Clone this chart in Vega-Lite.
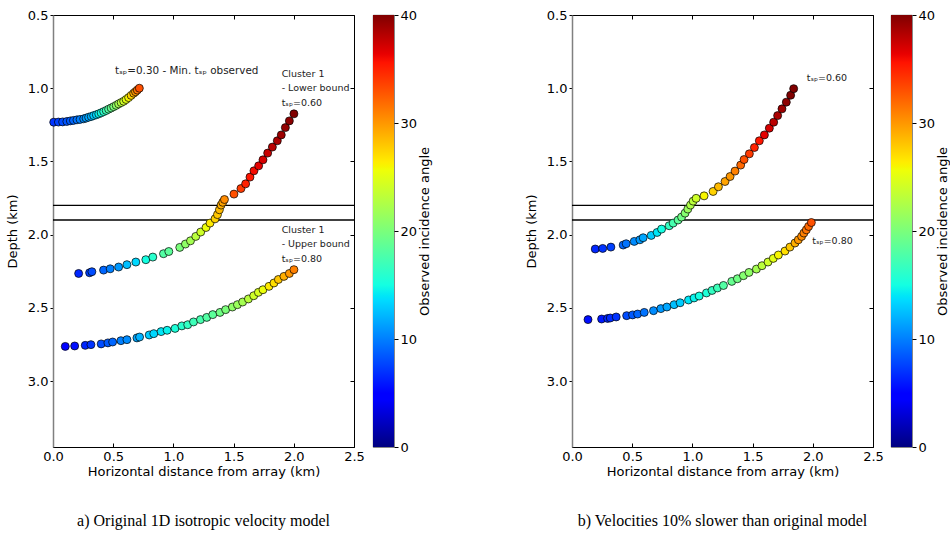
{
  "$schema": "https://vega.github.io/schema/vega-lite/v6.json",
  "padding": {"left": 5, "top": 8, "right": 0, "bottom": 5},
  "spacing": 92,
  "config": {
    "font": "DejaVu Sans",
    "view": {"stroke": "black", "strokeWidth": 1},
    "axis": {"grid": false, "labelFontSize": 13, "titleFontSize": 13, "titleFontWeight": "normal", "labelColor": "black", "titleColor": "black", "tickColor": "black", "domainColor": "black", "labelFont": "DejaVu Sans", "titleFont": "DejaVu Sans", "labelFlush": false}
  },
  "datasets": {
    "lines": [{"depth": 1.8}, {"depth": 1.9}],
    "bar": [{"lo": 0, "hi": 40}],
    "ptsA": [
      {"curve": "0.30", "x": 0.006, "depth": 1.232, "angle": 7},
      {"curve": "0.30", "x": 0.045, "depth": 1.231, "angle": 7.5},
      {"curve": "0.30", "x": 0.08, "depth": 1.230, "angle": 8},
      {"curve": "0.30", "x": 0.115, "depth": 1.227, "angle": 8.3},
      {"curve": "0.30", "x": 0.144, "depth": 1.223, "angle": 8.6},
      {"curve": "0.30", "x": 0.17, "depth": 1.220, "angle": 9},
      {"curve": "0.30", "x": 0.199, "depth": 1.216, "angle": 9.5},
      {"curve": "0.30", "x": 0.225, "depth": 1.213, "angle": 10},
      {"curve": "0.30", "x": 0.255, "depth": 1.209, "angle": 10.5},
      {"curve": "0.30", "x": 0.275, "depth": 1.204, "angle": 11},
      {"curve": "0.30", "x": 0.296, "depth": 1.198, "angle": 11.5},
      {"curve": "0.30", "x": 0.318, "depth": 1.193, "angle": 12},
      {"curve": "0.30", "x": 0.338, "depth": 1.187, "angle": 13},
      {"curve": "0.30", "x": 0.36, "depth": 1.181, "angle": 13.5},
      {"curve": "0.30", "x": 0.38, "depth": 1.175, "angle": 14.5},
      {"curve": "0.30", "x": 0.40, "depth": 1.168, "angle": 15},
      {"curve": "0.30", "x": 0.421, "depth": 1.160, "angle": 16},
      {"curve": "0.30", "x": 0.442, "depth": 1.152, "angle": 17},
      {"curve": "0.30", "x": 0.462, "depth": 1.143, "angle": 18},
      {"curve": "0.30", "x": 0.483, "depth": 1.135, "angle": 19},
      {"curve": "0.30", "x": 0.504, "depth": 1.126, "angle": 20},
      {"curve": "0.30", "x": 0.525, "depth": 1.117, "angle": 21},
      {"curve": "0.30", "x": 0.545, "depth": 1.107, "angle": 22},
      {"curve": "0.30", "x": 0.566, "depth": 1.098, "angle": 23},
      {"curve": "0.30", "x": 0.587, "depth": 1.089, "angle": 24},
      {"curve": "0.30", "x": 0.607, "depth": 1.077, "angle": 25},
      {"curve": "0.30", "x": 0.628, "depth": 1.064, "angle": 26},
      {"curve": "0.30", "x": 0.649, "depth": 1.049, "angle": 27.5},
      {"curve": "0.30", "x": 0.670, "depth": 1.034, "angle": 29},
      {"curve": "0.30", "x": 0.685, "depth": 1.024, "angle": 30},
      {"curve": "0.30", "x": 0.700, "depth": 1.013, "angle": 31.5},
      {"curve": "0.30", "x": 0.717, "depth": 1.000, "angle": 33},
      {"curve": "0.60", "x": 0.213, "depth": 2.265, "angle": 6.5},
      {"curve": "0.60", "x": 0.304, "depth": 2.260, "angle": 7.5},
      {"curve": "0.60", "x": 0.323, "depth": 2.253, "angle": 8},
      {"curve": "0.60", "x": 0.420, "depth": 2.242, "angle": 9},
      {"curve": "0.60", "x": 0.475, "depth": 2.233, "angle": 10},
      {"curve": "0.60", "x": 0.545, "depth": 2.221, "angle": 11},
      {"curve": "0.60", "x": 0.614, "depth": 2.205, "angle": 12.5},
      {"curve": "0.60", "x": 0.688, "depth": 2.187, "angle": 13.5},
      {"curve": "0.60", "x": 0.771, "depth": 2.171, "angle": 15},
      {"curve": "0.60", "x": 0.829, "depth": 2.153, "angle": 16},
      {"curve": "0.60", "x": 0.918, "depth": 2.130, "angle": 18},
      {"curve": "0.60", "x": 0.962, "depth": 2.115, "angle": 18.5},
      {"curve": "0.60", "x": 1.053, "depth": 2.087, "angle": 20},
      {"curve": "0.60", "x": 1.100, "depth": 2.064, "angle": 21},
      {"curve": "0.60", "x": 1.142, "depth": 2.042, "angle": 22},
      {"curve": "0.60", "x": 1.186, "depth": 2.012, "angle": 23},
      {"curve": "0.60", "x": 1.227, "depth": 1.982, "angle": 24},
      {"curve": "0.60", "x": 1.271, "depth": 1.951, "angle": 25.5},
      {"curve": "0.60", "x": 1.304, "depth": 1.921, "angle": 26.5},
      {"curve": "0.60", "x": 1.346, "depth": 1.892, "angle": 27.5},
      {"curve": "0.60", "x": 1.366, "depth": 1.863, "angle": 28},
      {"curve": "0.60", "x": 1.382, "depth": 1.830, "angle": 28.5},
      {"curve": "0.60", "x": 1.396, "depth": 1.798, "angle": 29},
      {"curve": "0.60", "x": 1.410, "depth": 1.779, "angle": 29.5},
      {"curve": "0.60", "x": 1.424, "depth": 1.760, "angle": 30.5},
      {"curve": "0.60", "x": 1.503, "depth": 1.723, "angle": 33},
      {"curve": "0.60", "x": 1.561, "depth": 1.685, "angle": 34},
      {"curve": "0.60", "x": 1.600, "depth": 1.653, "angle": 35},
      {"curve": "0.60", "x": 1.636, "depth": 1.607, "angle": 35.5},
      {"curve": "0.60", "x": 1.669, "depth": 1.564, "angle": 36},
      {"curve": "0.60", "x": 1.708, "depth": 1.530, "angle": 36.5},
      {"curve": "0.60", "x": 1.744, "depth": 1.489, "angle": 37},
      {"curve": "0.60", "x": 1.783, "depth": 1.443, "angle": 37.5},
      {"curve": "0.60", "x": 1.822, "depth": 1.402, "angle": 38},
      {"curve": "0.60", "x": 1.863, "depth": 1.359, "angle": 38.5},
      {"curve": "0.60", "x": 1.896, "depth": 1.319, "angle": 39},
      {"curve": "0.60", "x": 1.930, "depth": 1.269, "angle": 39.3},
      {"curve": "0.60", "x": 1.963, "depth": 1.223, "angle": 39.6},
      {"curve": "0.60", "x": 2.001, "depth": 1.175, "angle": 40},
      {"curve": "0.80", "x": 0.102, "depth": 2.763, "angle": 5},
      {"curve": "0.80", "x": 0.180, "depth": 2.760, "angle": 5.5},
      {"curve": "0.80", "x": 0.268, "depth": 2.756, "angle": 6.5},
      {"curve": "0.80", "x": 0.315, "depth": 2.751, "angle": 7},
      {"curve": "0.80", "x": 0.400, "depth": 2.746, "angle": 8},
      {"curve": "0.80", "x": 0.456, "depth": 2.739, "angle": 8.5},
      {"curve": "0.80", "x": 0.495, "depth": 2.733, "angle": 9},
      {"curve": "0.80", "x": 0.564, "depth": 2.724, "angle": 10},
      {"curve": "0.80", "x": 0.614, "depth": 2.717, "angle": 10.5},
      {"curve": "0.80", "x": 0.697, "depth": 2.705, "angle": 11.5},
      {"curve": "0.80", "x": 0.719, "depth": 2.699, "angle": 12},
      {"curve": "0.80", "x": 0.799, "depth": 2.685, "angle": 13},
      {"curve": "0.80", "x": 0.837, "depth": 2.676, "angle": 13.5},
      {"curve": "0.80", "x": 0.898, "depth": 2.662, "angle": 14},
      {"curve": "0.80", "x": 0.948, "depth": 2.653, "angle": 14.5},
      {"curve": "0.80", "x": 1.014, "depth": 2.640, "angle": 15.5},
      {"curve": "0.80", "x": 1.070, "depth": 2.623, "angle": 16},
      {"curve": "0.80", "x": 1.119, "depth": 2.615, "angle": 16.5},
      {"curve": "0.80", "x": 1.167, "depth": 2.596, "angle": 17},
      {"curve": "0.80", "x": 1.225, "depth": 2.580, "angle": 17.5},
      {"curve": "0.80", "x": 1.277, "depth": 2.565, "angle": 18},
      {"curve": "0.80", "x": 1.327, "depth": 2.546, "angle": 18.5},
      {"curve": "0.80", "x": 1.387, "depth": 2.531, "angle": 19.5},
      {"curve": "0.80", "x": 1.434, "depth": 2.512, "angle": 20},
      {"curve": "0.80", "x": 1.490, "depth": 2.494, "angle": 21},
      {"curve": "0.80", "x": 1.532, "depth": 2.478, "angle": 21.5},
      {"curve": "0.80", "x": 1.575, "depth": 2.460, "angle": 22},
      {"curve": "0.80", "x": 1.623, "depth": 2.439, "angle": 23},
      {"curve": "0.80", "x": 1.667, "depth": 2.417, "angle": 24},
      {"curve": "0.80", "x": 1.706, "depth": 2.394, "angle": 24.5},
      {"curve": "0.80", "x": 1.744, "depth": 2.376, "angle": 25.5},
      {"curve": "0.80", "x": 1.794, "depth": 2.353, "angle": 26.5},
      {"curve": "0.80", "x": 1.835, "depth": 2.330, "angle": 27},
      {"curve": "0.80", "x": 1.872, "depth": 2.306, "angle": 28},
      {"curve": "0.80", "x": 1.918, "depth": 2.285, "angle": 29},
      {"curve": "0.80", "x": 1.963, "depth": 2.265, "angle": 30},
      {"curve": "0.80", "x": 2.001, "depth": 2.239, "angle": 31}
    ],
    "ptsB": [
      {"curve": "0.60", "x": 0.193, "depth": 2.098, "angle": 6.5},
      {"curve": "0.60", "x": 0.255, "depth": 2.094, "angle": 7},
      {"curve": "0.60", "x": 0.323, "depth": 2.085, "angle": 7.5},
      {"curve": "0.60", "x": 0.425, "depth": 2.071, "angle": 9},
      {"curve": "0.60", "x": 0.450, "depth": 2.062, "angle": 9.5},
      {"curve": "0.60", "x": 0.517, "depth": 2.046, "angle": 10.5},
      {"curve": "0.60", "x": 0.564, "depth": 2.035, "angle": 11},
      {"curve": "0.60", "x": 0.591, "depth": 2.021, "angle": 11.5},
      {"curve": "0.60", "x": 0.658, "depth": 2.005, "angle": 13},
      {"curve": "0.60", "x": 0.707, "depth": 1.985, "angle": 14},
      {"curve": "0.60", "x": 0.744, "depth": 1.962, "angle": 15},
      {"curve": "0.60", "x": 0.807, "depth": 1.939, "angle": 16.5},
      {"curve": "0.60", "x": 0.840, "depth": 1.921, "angle": 17.5},
      {"curve": "0.60", "x": 0.881, "depth": 1.900, "angle": 18.5},
      {"curve": "0.60", "x": 0.910, "depth": 1.880, "angle": 19.5},
      {"curve": "0.60", "x": 0.939, "depth": 1.853, "angle": 20.5},
      {"curve": "0.60", "x": 0.962, "depth": 1.825, "angle": 21.5},
      {"curve": "0.60", "x": 0.984, "depth": 1.798, "angle": 22.5},
      {"curve": "0.60", "x": 1.006, "depth": 1.771, "angle": 23},
      {"curve": "0.60", "x": 1.031, "depth": 1.752, "angle": 24},
      {"curve": "0.60", "x": 1.097, "depth": 1.735, "angle": 26},
      {"curve": "0.60", "x": 1.172, "depth": 1.705, "angle": 27.5},
      {"curve": "0.60", "x": 1.216, "depth": 1.673, "angle": 28.5},
      {"curve": "0.60", "x": 1.271, "depth": 1.637, "angle": 29.5},
      {"curve": "0.60", "x": 1.313, "depth": 1.603, "angle": 30},
      {"curve": "0.60", "x": 1.354, "depth": 1.566, "angle": 31},
      {"curve": "0.60", "x": 1.401, "depth": 1.525, "angle": 32},
      {"curve": "0.60", "x": 1.429, "depth": 1.487, "angle": 33},
      {"curve": "0.60", "x": 1.473, "depth": 1.448, "angle": 34},
      {"curve": "0.60", "x": 1.515, "depth": 1.405, "angle": 35},
      {"curve": "0.60", "x": 1.556, "depth": 1.359, "angle": 35.5},
      {"curve": "0.60", "x": 1.598, "depth": 1.319, "angle": 36.5},
      {"curve": "0.60", "x": 1.639, "depth": 1.273, "angle": 37},
      {"curve": "0.60", "x": 1.675, "depth": 1.232, "angle": 38},
      {"curve": "0.60", "x": 1.708, "depth": 1.187, "angle": 38.5},
      {"curve": "0.60", "x": 1.744, "depth": 1.141, "angle": 39},
      {"curve": "0.60", "x": 1.780, "depth": 1.095, "angle": 39.5},
      {"curve": "0.60", "x": 1.816, "depth": 1.048, "angle": 40},
      {"curve": "0.60", "x": 1.841, "depth": 1.003, "angle": 40},
      {"curve": "0.80", "x": 0.133, "depth": 2.580, "angle": 5.5},
      {"curve": "0.80", "x": 0.246, "depth": 2.576, "angle": 6},
      {"curve": "0.80", "x": 0.296, "depth": 2.572, "angle": 6.5},
      {"curve": "0.80", "x": 0.318, "depth": 2.569, "angle": 6.7},
      {"curve": "0.80", "x": 0.367, "depth": 2.562, "angle": 7},
      {"curve": "0.80", "x": 0.454, "depth": 2.553, "angle": 8},
      {"curve": "0.80", "x": 0.503, "depth": 2.548, "angle": 8.5},
      {"curve": "0.80", "x": 0.545, "depth": 2.542, "angle": 9},
      {"curve": "0.80", "x": 0.600, "depth": 2.531, "angle": 9.5},
      {"curve": "0.80", "x": 0.677, "depth": 2.519, "angle": 10.5},
      {"curve": "0.80", "x": 0.738, "depth": 2.505, "angle": 11},
      {"curve": "0.80", "x": 0.788, "depth": 2.494, "angle": 11.5},
      {"curve": "0.80", "x": 0.848, "depth": 2.478, "angle": 12.5},
      {"curve": "0.80", "x": 0.898, "depth": 2.465, "angle": 13},
      {"curve": "0.80", "x": 0.968, "depth": 2.446, "angle": 14},
      {"curve": "0.80", "x": 1.014, "depth": 2.432, "angle": 14.5},
      {"curve": "0.80", "x": 1.056, "depth": 2.419, "angle": 15},
      {"curve": "0.80", "x": 1.117, "depth": 2.398, "angle": 15.5},
      {"curve": "0.80", "x": 1.163, "depth": 2.381, "angle": 16.5},
      {"curve": "0.80", "x": 1.208, "depth": 2.364, "angle": 17},
      {"curve": "0.80", "x": 1.258, "depth": 2.347, "angle": 18},
      {"curve": "0.80", "x": 1.327, "depth": 2.319, "angle": 19},
      {"curve": "0.80", "x": 1.374, "depth": 2.301, "angle": 19.5},
      {"curve": "0.80", "x": 1.424, "depth": 2.280, "angle": 20.5},
      {"curve": "0.80", "x": 1.470, "depth": 2.258, "angle": 21},
      {"curve": "0.80", "x": 1.532, "depth": 2.235, "angle": 22},
      {"curve": "0.80", "x": 1.578, "depth": 2.212, "angle": 23},
      {"curve": "0.80", "x": 1.628, "depth": 2.187, "angle": 24},
      {"curve": "0.80", "x": 1.672, "depth": 2.162, "angle": 25},
      {"curve": "0.80", "x": 1.714, "depth": 2.139, "angle": 26},
      {"curve": "0.80", "x": 1.769, "depth": 2.112, "angle": 27},
      {"curve": "0.80", "x": 1.810, "depth": 2.085, "angle": 28},
      {"curve": "0.80", "x": 1.852, "depth": 2.057, "angle": 29},
      {"curve": "0.80", "x": 1.880, "depth": 2.035, "angle": 30},
      {"curve": "0.80", "x": 1.907, "depth": 2.012, "angle": 30.5},
      {"curve": "0.80", "x": 1.926, "depth": 1.989, "angle": 31},
      {"curve": "0.80", "x": 1.946, "depth": 1.967, "angle": 31.5},
      {"curve": "0.80", "x": 1.965, "depth": 1.944, "angle": 32},
      {"curve": "0.80", "x": 1.988, "depth": 1.917, "angle": 33}
    ],
    "mainNoteA": [
      {"x": 0.514, "depth": 0.848, "label": "tₛₚ=0.30 - Min. tₛₚ observed"}
    ],
    "notesA": [
      {"x": 1.899, "depth": 0.868, "label": "Cluster 1\n- Lower bound\ntₛₚ=0.60"},
      {"x": 1.899, "depth": 1.932, "label": "Cluster 1\n- Upper bound\ntₛₚ=0.80"}
    ],
    "notesB": [
      {"x": 1.949, "depth": 0.896, "label": "tₛₚ=0.60"},
      {"x": 1.996, "depth": 2.012, "label": "tₛₚ=0.80"}
    ]
  },
  "hconcat": [
    {
      "spacing": 19,
      "bounds": "flush",
      "hconcat": [
        {
          "width": 301,
          "height": 432,
          "title": {"text": "a) Original 1D isotropic velocity model", "orient": "bottom", "font": "Liberation Serif", "fontSize": 16, "fontWeight": "normal", "color": "black", "frame": "group", "anchor": "middle", "offset": 35},
          "resolve": {"axis": {"x": "independent", "y": "independent"}},
          "layer": [
            {
              "data": {"name": "lines"},
              "mark": {"type": "rule", "color": "black", "strokeWidth": 1.3},
              "encoding": {
                "y": {"field": "depth", "type": "quantitative", "scale": {"domain": [0.5, 3.45], "reverse": true, "nice": false, "zero": false}, "axis": {"orient": "right", "title": null, "labels": false, "domain": false, "values": [0.5, 1.0, 1.5, 2.0, 2.5, 3.0], "tickSize": -4}}
              }
            },
            {
              "data": {"name": "ptsA"},
              "mark": {"type": "circle", "size": 64, "stroke": "black", "strokeWidth": 0.7, "opacity": 1},
              "encoding": {
                "x": {"field": "x", "type": "quantitative", "scale": {"domain": [0, 2.5], "nice": false, "zero": false}, "axis": {"orient": "bottom", "title": "Horizontal distance from array (km)", "values": [0, 0.5, 1.0, 1.5, 2.0, 2.5], "format": ".1f", "tickSize": -4, "labelPadding": 7, "titlePadding": 2, "labelFlush": false}},
                "y": {"field": "depth", "type": "quantitative", "axis": {"orient": "left", "title": "Depth (km)", "values": [0.5, 1.0, 1.5, 2.0, 2.5, 3.0], "format": ".1f", "tickSize": 3, "labelPadding": 2, "titlePadding": 8, "domainColor": "#808080", "domainWidth": 1.5, "labelFlush": false}},
                "color": {"field": "angle", "type": "quantitative",
                  "scale": {"domain": [0, 4.4, 5, 13.6, 14, 15, 25.6, 26, 26.4, 35.6, 36.4, 40], "range": ["#000080", "#0000ff", "#0000ff", "#00dbff", "#00e6f7", "#14ffe2", "#eeff08", "#f7f500", "#ffec00", "#ff1300", "#e80000", "#800000"], "interpolate": "rgb"},
                  "legend": null
                }
              }
            },
            {
              "data": {"name": "mainNoteA"},
              "mark": {"type": "text", "fontSize": 10.4, "color": "#222", "baseline": "top", "align": "left"},
              "encoding": {
                "x": {"field": "x", "type": "quantitative", "axis": {"orient": "top", "title": null, "labels": false, "domain": false, "values": [0, 0.5, 1.0, 1.5, 2.0, 2.5], "tickSize": -4}},
                "y": {"field": "depth", "type": "quantitative", "axis": null},
                "text": {"field": "label"}
              }
            },
            {
              "data": {"name": "notesA"},
              "mark": {"type": "text", "fontSize": 9.5, "color": "#222", "baseline": "top", "align": "left", "lineBreak": "\n", "lineHeight": 14.5},
              "encoding": {
                "x": {"field": "x", "type": "quantitative", "axis": null},
                "y": {"field": "depth", "type": "quantitative", "axis": null},
                "text": {"field": "label"}
              }
            }
          ]
        },
        {
          "width": 21,
          "height": 432,
          "view": {"stroke": "#444", "strokeWidth": 0.8},
          "data": {"name": "bar"},
          "mark": {"type": "rect", "color": {"gradient": "linear", "x1": 0, "y1": 1, "x2": 0, "y2": 0, "stops": [
            {"offset": 0, "color": "#000080"}, {"offset": 0.11, "color": "#0000ff"}, {"offset": 0.125, "color": "#0000ff"},
            {"offset": 0.34, "color": "#00dbff"}, {"offset": 0.35, "color": "#00e6f7"}, {"offset": 0.375, "color": "#14ffe2"},
            {"offset": 0.64, "color": "#eeff08"}, {"offset": 0.65, "color": "#f7f500"}, {"offset": 0.66, "color": "#ffec00"},
            {"offset": 0.89, "color": "#ff1300"}, {"offset": 0.91, "color": "#e80000"}, {"offset": 1, "color": "#800000"}]}},
          "encoding": {
            "x": {"datum": 0, "type": "quantitative", "scale": {"domain": [0, 1], "nice": false, "zero": false}, "axis": null},
            "x2": {"datum": 1},
            "y": {"field": "lo", "type": "quantitative", "scale": {"domain": [0, 40], "nice": false}, "axis": {"orient": "right", "title": "Observed incidence angle", "values": [0, 10, 20, 30, 40], "tickSize": 4, "labelPadding": 2, "titlePadding": 2, "domain": false, "titleAngle": 270, "titleBaseline": "top", "labelFlush": false}},
            "y2": {"field": "hi"}
          }
        }
      ]
    },
    {
      "spacing": 18,
      "bounds": "flush",
      "hconcat": [
        {
          "width": 301,
          "height": 432,
          "title": {"text": "b) Velocities 10% slower than original model", "orient": "bottom", "font": "Liberation Serif", "fontSize": 16, "fontWeight": "normal", "color": "black", "frame": "group", "anchor": "middle", "offset": 35},
          "resolve": {"axis": {"x": "independent", "y": "independent"}},
          "layer": [
            {
              "data": {"name": "lines"},
              "mark": {"type": "rule", "color": "black", "strokeWidth": 1.3},
              "encoding": {
                "y": {"field": "depth", "type": "quantitative", "scale": {"domain": [0.5, 3.45], "reverse": true, "nice": false, "zero": false}, "axis": {"orient": "right", "title": null, "labels": false, "domain": false, "values": [0.5, 1.0, 1.5, 2.0, 2.5, 3.0], "tickSize": -4}}
              }
            },
            {
              "data": {"name": "ptsB"},
              "mark": {"type": "circle", "size": 64, "stroke": "black", "strokeWidth": 0.7, "opacity": 1},
              "encoding": {
                "x": {"field": "x", "type": "quantitative", "scale": {"domain": [0, 2.5], "nice": false, "zero": false}, "axis": {"orient": "bottom", "title": "Horizontal distance from array (km)", "values": [0, 0.5, 1.0, 1.5, 2.0, 2.5], "format": ".1f", "tickSize": -4, "labelPadding": 7, "titlePadding": 2, "labelFlush": false}},
                "y": {"field": "depth", "type": "quantitative", "axis": {"orient": "left", "title": "Depth (km)", "values": [0.5, 1.0, 1.5, 2.0, 2.5, 3.0], "format": ".1f", "tickSize": 3, "labelPadding": 2, "titlePadding": 8, "domainColor": "#808080", "domainWidth": 1.5, "labelFlush": false}},
                "color": {"field": "angle", "type": "quantitative",
                  "scale": {"domain": [0, 4.4, 5, 13.6, 14, 15, 25.6, 26, 26.4, 35.6, 36.4, 40], "range": ["#000080", "#0000ff", "#0000ff", "#00dbff", "#00e6f7", "#14ffe2", "#eeff08", "#f7f500", "#ffec00", "#ff1300", "#e80000", "#800000"], "interpolate": "rgb"},
                  "legend": null
                }
              }
            },
            {
              "data": {"name": "notesB"},
              "mark": {"type": "text", "fontSize": 9.5, "color": "#222", "baseline": "top", "align": "left"},
              "encoding": {
                "x": {"field": "x", "type": "quantitative", "axis": {"orient": "top", "title": null, "labels": false, "domain": false, "values": [0, 0.5, 1.0, 1.5, 2.0, 2.5], "tickSize": -4}},
                "y": {"field": "depth", "type": "quantitative", "axis": null},
                "text": {"field": "label"}
              }
            }
          ]
        },
        {
          "width": 21,
          "height": 432,
          "view": {"stroke": "#444", "strokeWidth": 0.8},
          "data": {"name": "bar"},
          "mark": {"type": "rect", "color": {"gradient": "linear", "x1": 0, "y1": 1, "x2": 0, "y2": 0, "stops": [
            {"offset": 0, "color": "#000080"}, {"offset": 0.11, "color": "#0000ff"}, {"offset": 0.125, "color": "#0000ff"},
            {"offset": 0.34, "color": "#00dbff"}, {"offset": 0.35, "color": "#00e6f7"}, {"offset": 0.375, "color": "#14ffe2"},
            {"offset": 0.64, "color": "#eeff08"}, {"offset": 0.65, "color": "#f7f500"}, {"offset": 0.66, "color": "#ffec00"},
            {"offset": 0.89, "color": "#ff1300"}, {"offset": 0.91, "color": "#e80000"}, {"offset": 1, "color": "#800000"}]}},
          "encoding": {
            "x": {"datum": 0, "type": "quantitative", "scale": {"domain": [0, 1], "nice": false, "zero": false}, "axis": null},
            "x2": {"datum": 1},
            "y": {"field": "lo", "type": "quantitative", "scale": {"domain": [0, 40], "nice": false}, "axis": {"orient": "right", "title": "Observed incidence angle", "values": [0, 10, 20, 30, 40], "tickSize": 4, "labelPadding": 2, "titlePadding": 2, "domain": false, "titleAngle": 270, "titleBaseline": "top", "labelFlush": false}},
            "y2": {"field": "hi"}
          }
        }
      ]
    }
  ]
}
